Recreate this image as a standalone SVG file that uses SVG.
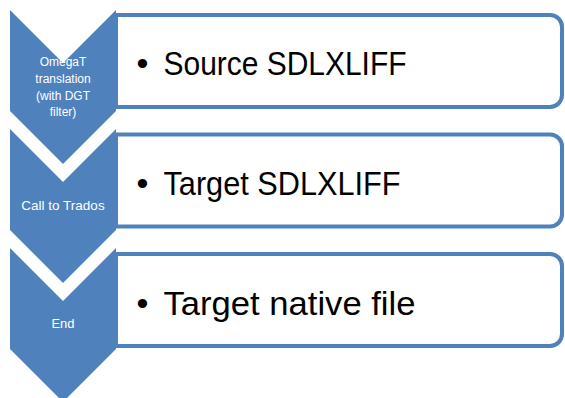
<svg xmlns="http://www.w3.org/2000/svg" width="565" height="398" viewBox="0 0 565 398">
<style>
.box{fill:#ffffff;stroke:#4F81BD;stroke-width:4}
.chev{fill:#4F81BD}
.big{font-family:"Liberation Sans",Arial,sans-serif;font-size:34px;fill:#000000}
.small{font-family:"Liberation Sans",Arial,sans-serif;fill:#ffffff;text-anchor:middle}
</style>
<rect width="565" height="398" fill="#ffffff"/>
<g id="connectors"></g>
<g id="item1">
<path class="box" d="M116,15 H550 A12,12 0 0 1 562,27 V95 A12,12 0 0 1 550,107 H116 Z"/>
<text class="big"><tspan x="136.5" y="75">•</tspan><tspan x="163.5" y="75" textLength="243" lengthAdjust="spacingAndGlyphs">Source SDLXLIFF</tspan></text>
</g>
<g id="item2">
<path class="box" d="M116,134.5 H550 A12,12 0 0 1 562,146.5 V214.5 A12,12 0 0 1 550,226.5 H116 Z"/>
<text class="big"><tspan x="136.5" y="195">•</tspan><tspan x="163.5" y="195" textLength="237" lengthAdjust="spacingAndGlyphs">Target SDLXLIFF</tspan></text>
</g>
<g id="item3">
<path class="box" d="M116,254 H550 A12,12 0 0 1 562,266 V334 A12,12 0 0 1 550,346 H116 Z"/>
<text class="big"><tspan x="136.5" y="315">•</tspan><tspan x="163.5" y="315" textLength="252" lengthAdjust="spacingAndGlyphs">Target native file</tspan></text>
</g>
<g id="step1">
<polygon class="chev" points="10,10 63,63 116,10 116,111 63,164 10,111"/>
<text class="small" font-size="12"><tspan x="63" y="66">OmegaT</tspan><tspan x="63" y="83">translation</tspan><tspan x="63" y="100">(with DGT</tspan><tspan x="63" y="116">filter)</tspan></text>
</g>
<g id="step2">
<polygon class="chev" points="10,129 63,182 116,129 116,230 63,283 10,230"/>
<text class="small" font-size="13.5" x="63" y="210">Call to Trados</text>
</g>
<g id="step3">
<polygon class="chev" points="10,248 63,301 116,248 116,349 63,402 10,349"/>
<text class="small" font-size="13" x="63" y="328">End</text>
</g>
</svg>
